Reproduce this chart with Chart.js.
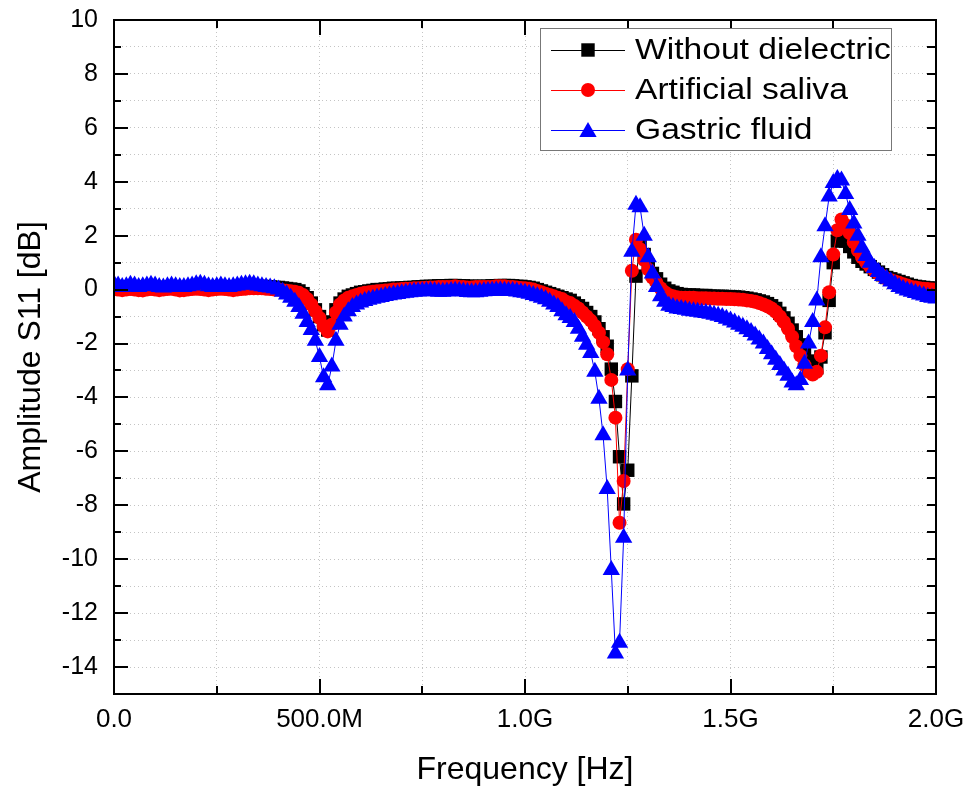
<!DOCTYPE html>
<html>
<head>
<meta charset="utf-8">
<script src="https://cdn.jsdelivr.net/npm/chart.js@4.4.1/dist/chart.umd.min.js"></script>
<style>
  html, body { margin: 0; padding: 0; background: #fff; }
  #wrap { width: 969px; height: 798px; }
</style>
</head>
<body>
<div id="wrap"><canvas id="s11"></canvas></div>
<script>
// frequency in MHz, 10 MHz steps
const freqMHz = [
  0, 10, 20, 30, 40, 50, 60, 70, 80, 90,
  100, 110, 120, 130, 140, 150, 160, 170, 180, 190,
  200, 210, 220, 230, 240, 250, 260, 270, 280, 290,
  300, 310, 320, 330, 340, 350, 360, 370, 380, 390,
  400, 410, 420, 430, 440, 450, 460, 470, 480, 490,
  500, 510, 520, 530, 540, 550, 560, 570, 580, 590,
  600, 610, 620, 630, 640, 650, 660, 670, 680, 690,
  700, 710, 720, 730, 740, 750, 760, 770, 780, 790,
  800, 810, 820, 830, 840, 850, 860, 870, 880, 890,
  900, 910, 920, 930, 940, 950, 960, 970, 980, 990,
  1000, 1010, 1020, 1030, 1040, 1050, 1060, 1070, 1080, 1090,
  1100, 1110, 1120, 1130, 1140, 1150, 1160, 1170, 1180, 1190,
  1200, 1210, 1220, 1230, 1240, 1250, 1260, 1270, 1280, 1290,
  1300, 1310, 1320, 1330, 1340, 1350, 1360, 1370, 1380, 1390,
  1400, 1410, 1420, 1430, 1440, 1450, 1460, 1470, 1480, 1490,
  1500, 1510, 1520, 1530, 1540, 1550, 1560, 1570, 1580, 1590,
  1600, 1610, 1620, 1630, 1640, 1650, 1660, 1670, 1680, 1690,
  1700, 1710, 1720, 1730, 1740, 1750, 1760, 1770, 1780, 1790,
  1800, 1810, 1820, 1830, 1840, 1850, 1860, 1870, 1880, 1890,
  1900, 1910, 1920, 1930, 1940, 1950, 1960, 1970, 1980, 1990,
  2000
]

// S11 amplitude [dB]
const withoutDielectric = [
  0.12, 0.1, 0.08, 0.1, 0.08, 0.05, 0.05, 0.08, 0.1, 0.1,
  0.08, 0.05, 0.05, 0.08, 0.1, 0.08, 0.05, 0.05, 0.05, 0.08,
  0.1, 0.1, 0.08, 0.05, 0.05, 0.08, 0.1, 0.1, 0.08, 0.05,
  0.05, 0.08, 0.1, 0.1, 0.1, 0.12, 0.12, 0.1, 0.1, 0.08,
  0.08, 0.06, 0.04, 0.02, 0.0, -0.05, -0.15, -0.3, -0.5, -0.75,
  -1.0, -1.3, -1.5, -1.2, -0.75, -0.5, -0.35, -0.25, -0.2, -0.15,
  -0.1, -0.08, -0.05, -0.03, 0.0, 0.0, 0.02, 0.03, 0.05, 0.05,
  0.06, 0.07, 0.08, 0.08, 0.1, 0.1, 0.12, 0.12, 0.12, 0.14,
  0.14, 0.14, 0.15, 0.15, 0.14, 0.14, 0.12, 0.12, 0.12, 0.12,
  0.12, 0.12, 0.14, 0.14, 0.15, 0.15, 0.15, 0.14, 0.12, 0.12,
  0.1, 0.08, 0.05, 0.0, -0.05, -0.1, -0.15, -0.2, -0.25, -0.3,
  -0.35, -0.4, -0.5, -0.6, -0.7, -0.85, -1.0, -1.2, -1.45, -1.75,
  -2.1, -2.95, -4.15, -6.2, -7.95, -6.7, -3.2, 0.5, 1.6, 1.3,
  0.9, 0.6, 0.4, 0.2, 0.05, -0.05, -0.1, -0.15, -0.18, -0.2,
  -0.2, -0.2, -0.22, -0.22, -0.22, -0.24, -0.25, -0.25, -0.25, -0.26,
  -0.26, -0.27, -0.28, -0.3, -0.32, -0.35, -0.38, -0.42, -0.46, -0.52,
  -0.6, -0.7, -0.88, -1.05, -1.25, -1.5, -1.75, -2.05, -2.35, -2.65,
  -2.85, -2.9, -2.5, -1.6, -0.4, 1.0, 1.8, 1.95, 1.8, 1.6,
  1.4, 1.2, 1.05, 0.95, 0.85, 0.75, 0.65, 0.55, 0.45, 0.4,
  0.35, 0.3, 0.25, 0.2, 0.15, 0.12, 0.1, 0.08, 0.06, 0.05,
  0.05
]

const artificialSaliva = [
  0.02, 0.0, -0.02, 0.0, 0.02, 0.0, -0.02, -0.03, 0.0, 0.02,
  0.0, -0.02, 0.0, 0.02, 0.03, 0.0, -0.03, -0.02, 0.0, 0.02,
  0.03, 0.02, 0.0, -0.02, 0.0, 0.02, 0.03, 0.02, 0.0, -0.02,
  0.0, 0.02, 0.03, 0.05, 0.05, 0.05, 0.05, 0.03, 0.02, 0.0,
  0.0, -0.02, -0.04, -0.06, -0.08, -0.12, -0.2, -0.35, -0.55, -0.8,
  -1.05, -1.35, -1.55, -1.3, -0.85, -0.55, -0.4, -0.3, -0.25, -0.2,
  -0.15, -0.12, -0.1, -0.08, -0.06, -0.05, -0.03, -0.02, 0.0, 0.0,
  0.02, 0.03, 0.03, 0.05, 0.05, 0.06, 0.07, 0.08, 0.08, 0.1,
  0.1, 0.1, 0.1, 0.12, 0.1, 0.1, 0.08, 0.08, 0.1, 0.1,
  0.1, 0.1, 0.1, 0.12, 0.12, 0.12, 0.1, 0.1, 0.08, 0.06,
  0.05, 0.03, 0.0, -0.05, -0.1, -0.15, -0.2, -0.25, -0.3, -0.35,
  -0.45, -0.5, -0.6, -0.7, -0.85, -1.0, -1.15, -1.35, -1.6, -1.95,
  -2.4, -3.35, -4.75, -8.65, -7.1, -2.95, 0.7, 1.85, 1.5, 1.1,
  0.75, 0.45, 0.25, 0.05, -0.1, -0.2, -0.25, -0.28, -0.3, -0.3,
  -0.3, -0.3, -0.32, -0.32, -0.32, -0.33, -0.33, -0.34, -0.34, -0.35,
  -0.35, -0.36, -0.37, -0.38, -0.4, -0.42, -0.45, -0.5, -0.55, -0.62,
  -0.7, -0.82, -1.0, -1.2, -1.45, -1.75, -2.1, -2.45, -2.8, -3.05,
  -3.15, -3.05, -2.45, -1.4, -0.1, 1.3, 2.2, 2.6, 2.4, 2.1,
  1.75, 1.45, 1.2, 1.0, 0.85, 0.7, 0.6, 0.5, 0.4, 0.35,
  0.3, 0.25, 0.2, 0.15, 0.1, 0.08, 0.05, 0.03, 0.02, 0.0,
  0.0
]

const gastricFluid = [
  0.2, 0.15, 0.1, 0.12, 0.18, 0.15, 0.1, 0.12, 0.15, 0.18,
  0.15, 0.1, 0.08, 0.12, 0.15, 0.12, 0.1, 0.1, 0.12, 0.15,
  0.2, 0.22, 0.18, 0.12, 0.1, 0.12, 0.15, 0.12, 0.1, 0.12,
  0.15, 0.18, 0.2, 0.22, 0.2, 0.15, 0.12, 0.1, 0.08, 0.05,
  0.0, -0.08, -0.18, -0.3, -0.45, -0.65, -0.9, -1.2, -1.5, -1.9,
  -2.5, -3.25, -3.55, -2.85, -1.9, -1.3, -1.0, -0.8, -0.65, -0.55,
  -0.48, -0.42, -0.38, -0.34, -0.3, -0.27, -0.24, -0.21, -0.18, -0.16,
  -0.14, -0.12, -0.1, -0.08, -0.07, -0.06, -0.05, -0.05, -0.06, -0.08,
  -0.08, -0.07, -0.05, -0.04, -0.05, -0.07, -0.09, -0.1, -0.1, -0.08,
  -0.06, -0.05, -0.04, -0.03, -0.03, -0.04, -0.05, -0.05, -0.07, -0.1,
  -0.12, -0.15, -0.2, -0.25, -0.3, -0.36, -0.45, -0.55, -0.65, -0.8,
  -0.95, -1.05, -1.2, -1.45, -1.75, -2.05, -2.35, -3.05, -4.05, -5.4,
  -7.4, -10.4, -13.5, -13.1, -9.2, -3.0, 1.4, 3.15, 3.05, 2.0,
  1.2, 0.6, 0.1, -0.25, -0.45, -0.6, -0.65, -0.7, -0.72, -0.75,
  -0.78, -0.8, -0.82, -0.85, -0.87, -0.9, -0.93, -0.97, -1.02, -1.08,
  -1.15, -1.22, -1.3, -1.38, -1.47, -1.57, -1.7, -1.85, -2.0, -2.2,
  -2.4, -2.6, -2.8, -3.0, -3.2, -3.45, -3.55, -3.35, -2.75, -2.0,
  -1.2, -0.4, 1.2, 2.35, 3.45, 3.95, 4.1, 4.05, 3.55, 2.95,
  2.45, 2.0, 1.55, 1.25, 1.0, 0.8, 0.65, 0.5, 0.4, 0.3,
  0.2, 0.1, 0.03, -0.03, -0.08, -0.13, -0.18, -0.22, -0.27, -0.3,
  -0.33
]

const seriesNames = ['Without dielectric', 'Artificial saliva', 'Gastric fluid']
const xTickLabels = { 0: '0.0', 500: '500.0M', 1000: '1.0G', 1500: '1.5G', 2000: '2.0G' }

const FONT = "'Liberation Sans', Arial, sans-serif"
Chart.defaults.font.family = FONT
Chart.defaults.color = '#000'

function pts (ys) {
  return freqMHz.map((f, i) => ({ x: f, y: ys[i] }))
}

// frame with inward ticks on all four sides, plus the boxed legend
const framePlugin = {
  id: 'frame',
  afterDatasetsDraw (chart) {
    const { ctx, chartArea: a, scales } = chart
    ctx.save()
    ctx.strokeStyle = '#000'
    ctx.lineWidth = 2
    ctx.strokeRect(a.left, a.top, a.right - a.left, a.bottom - a.top)
    ctx.beginPath()
    for (let v = -14; v <= 9; v++) {
      const y = Math.round(scales.y.getPixelForValue(v))
      const len = v % 2 === 0 ? 14 : 7
      ctx.moveTo(a.left, y); ctx.lineTo(a.left + len, y)
      ctx.moveTo(a.right, y); ctx.lineTo(a.right - 9, y)
    }
    for (let v = 250; v < 2000; v += 250) {
      const x = Math.round(scales.x.getPixelForValue(v))
      const len = v % 500 === 0 ? 15 : 8
      ctx.moveTo(x, a.bottom); ctx.lineTo(x, a.bottom - len)
      ctx.moveTo(x, a.top); ctx.lineTo(x, a.top + len)
    }
    ctx.stroke()
    ctx.restore()
  },
  afterDraw (chart) {
    const { ctx } = chart
    const box = { x: 540, y: 28, w: 351, h: 122 }
    ctx.save()
    ctx.fillStyle = '#fff'
    ctx.fillRect(box.x, box.y, box.w, box.h)
    ctx.strokeStyle = '#777'
    ctx.lineWidth = 1
    ctx.strokeRect(box.x + 0.5, box.y + 0.5, box.w, box.h)
    chart.data.datasets.forEach((ds, i) => {
      const y = 50 + i * 40
      ctx.strokeStyle = ds.borderColor
      ctx.lineWidth = 1
      ctx.beginPath()
      ctx.moveTo(551, y + 0.5); ctx.lineTo(625, y + 0.5)
      ctx.stroke()
      ctx.fillStyle = ds.pointBackgroundColor
      Chart.helpers.drawPoint(ctx, { pointStyle: ds.pointStyle, radius: ds.pointRadius, rotation: 0, borderWidth: 0 }, 588, y + (ds.pointStyle === 'triangle' ? 2 : 0))
      ctx.fillStyle = '#000'
      ctx.font = '30px ' + FONT
      ctx.textBaseline = 'middle'
      ctx.translate(635, y + 1)
      ctx.scale(1.12, 1)
      ctx.fillText(seriesNames[i], 0, 0)
      ctx.setTransform(1, 0, 0, 1, 0, 0)
    })
    ctx.restore()
  }
}

new Chart(document.getElementById('s11').getContext('2d'), {
  type: 'line',
  data: {
    datasets: [
      { label: seriesNames[0], data: pts(withoutDielectric), borderColor: '#000', backgroundColor: '#000', pointBackgroundColor: '#000', pointStyle: 'rect', pointRadius: 9.5, pointBorderWidth: 0, borderWidth: 1, order: 3 },
      { label: seriesNames[1], data: pts(artificialSaliva), borderColor: '#ff0000', backgroundColor: '#ff0000', pointBackgroundColor: '#ff0000', pointStyle: 'circle', pointRadius: 7, pointBorderWidth: 0, borderWidth: 1, order: 2 },
      { label: seriesNames[2], data: pts(gastricFluid), borderColor: '#0000ff', backgroundColor: '#0000ff', pointBackgroundColor: '#0000ff', pointStyle: 'triangle', pointRadius: 10, pointBorderWidth: 0, borderWidth: 1, order: 1 }
    ]
  },
  options: {
    responsive: true,
    maintainAspectRatio: false,
    animation: false,
    layout: { padding: { left: 0, top: 20, right: 33, bottom: 0 } },
    scales: {
      x: {
        type: 'linear',
        min: 0,
        max: 2000,
        afterFit: (s) => { s.height = 104 },
        grid: { color: '#c4c4c4', lineWidth: 1, drawTicks: true, tickLength: 10, tickColor: 'rgba(0,0,0,0)' },
        border: { display: false, dash: [1, 3] },
        ticks: {
          stepSize: 250,
          autoSkip: false,
          maxRotation: 0,
          padding: 0,
          font: { size: 26 },
          callback: (v) => xTickLabels[v] || ''
        },
        title: { display: true, text: 'Frequency [Hz]', font: { size: 32 }, padding: { top: 0, bottom: 9 } }
      },
      y: {
        min: -15,
        max: 10,
        afterFit: (s) => { s.width = 114 },
        grid: { color: '#c4c4c4', lineWidth: 1, drawTicks: true, tickLength: 16, tickColor: 'rgba(0,0,0,0)' },
        border: { display: false, dash: [1, 3] },
        ticks: {
          stepSize: 1,
          autoSkip: false,
          padding: 0,
          font: { size: 25 },
          callback: (v) => (v % 2 === 0 ? String(v) : '')
        },
        title: { display: true, text: 'Amplitude S11 [dB]', font: { size: 32 }, padding: { top: 12, bottom: 0 } }
      }
    },
    plugins: {
      legend: { display: false },
      tooltip: { enabled: false }
    }
  },
  plugins: [framePlugin]
})
</script>
</body>
</html>
